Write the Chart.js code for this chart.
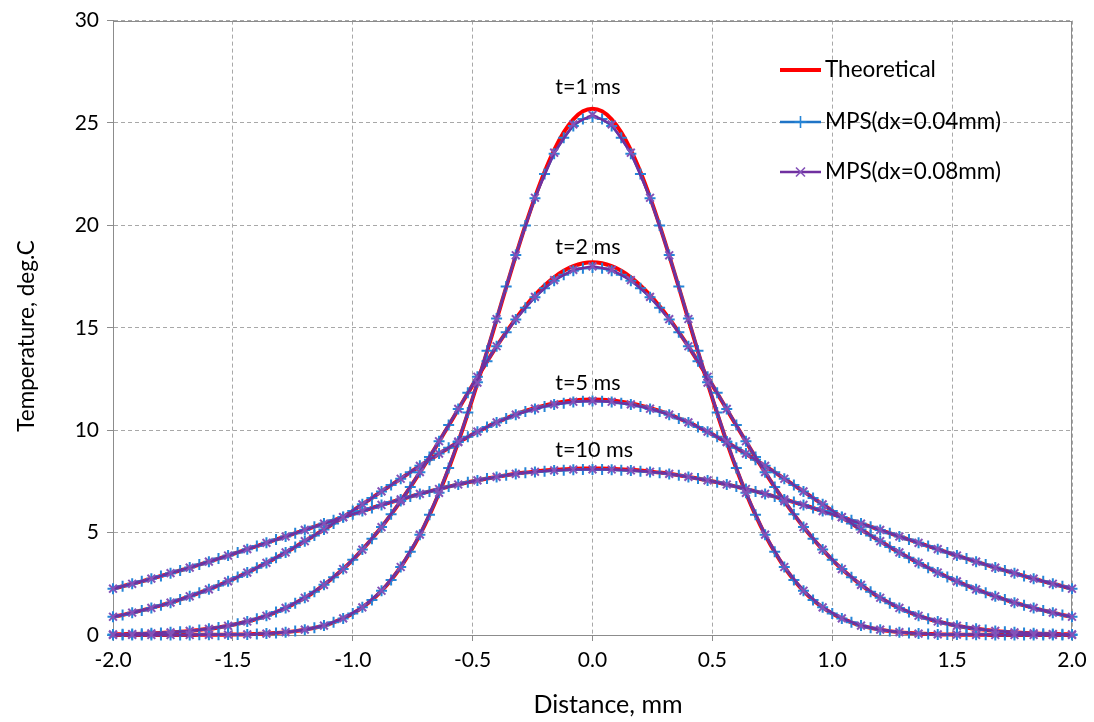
<!DOCTYPE html>
<html>
<head>
<meta charset="utf-8">
<title>Temperature distribution</title>
<script src="https://cdn.jsdelivr.net/npm/chart.js@4.4.1/dist/chart.umd.min.js"></script>
<style>
    html, body { margin: 0; padding: 0; background: #fff; }
    #wrap { width: 1094px; height: 722px; }
</style>
</head>
<body>
<div id="wrap"><canvas id="tempChart" width="1094" height="722"></canvas></div>
<script>
// Particle positions, mm
const xDx04 = [
    -2.00,-1.96,-1.92,-1.88,-1.84,-1.80,-1.76,-1.72,-1.68,-1.64,
    -1.60,-1.56,-1.52,-1.48,-1.44,-1.40,-1.36,-1.32,-1.28,-1.24,
    -1.20,-1.16,-1.12,-1.08,-1.04,-1.00,-0.96,-0.92,-0.88,-0.84,
    -0.80,-0.76,-0.72,-0.68,-0.64,-0.60,-0.56,-0.52,-0.48,-0.44,
    -0.40,-0.36,-0.32,-0.28,-0.24,-0.20,-0.16,-0.12,-0.08,-0.04,
    0.00,
    0.04,0.08,0.12,0.16,0.20,0.24,0.28,0.32,0.36,0.40,
    0.44,0.48,0.52,0.56,0.60,0.64,0.68,0.72,0.76,0.80,
    0.84,0.88,0.92,0.96,1.00,1.04,1.08,1.12,1.16,1.20,
    1.24,1.28,1.32,1.36,1.40,1.44,1.48,1.52,1.56,1.60,
    1.64,1.68,1.72,1.76,1.80,1.84,1.88,1.92,1.96,2.00
];
const xDx08 = [
    -2.00,-1.92,-1.84,-1.76,-1.68,-1.60,-1.52,-1.44,-1.36,-1.28,-1.20,-1.12,-1.04,
    -0.96,-0.88,-0.80,-0.72,-0.64,-0.56,-0.48,-0.40,-0.32,-0.24,-0.16,-0.08,
    0.00,
    0.08,0.16,0.24,0.32,0.40,0.48,0.56,0.64,0.72,0.80,0.88,0.96,
    1.04,1.12,1.20,1.28,1.36,1.44,1.52,1.60,1.68,1.76,1.84,1.92,2.00
];

// t = 1 ms
const theory1 = [
    0,0,0,0,0,0,0,0,0,0.01,
    0.01,0.01,0.02,0.02,0.03,0.05,0.07,0.10,0.14,0.19,
    0.26,0.35,0.46,0.62,0.81,1.05,1.35,1.71,2.16,2.69,
    3.32,4.05,4.89,5.85,6.93,8.12,9.42,10.82,12.30,13.83,
    15.40,16.98,18.52,20.00,21.37,22.61,23.68,24.54,25.18,25.57,
    25.70,
    25.57,25.18,24.54,23.68,22.61,21.37,20.00,18.52,16.98,15.40,
    13.83,12.30,10.82,9.42,8.12,6.93,5.85,4.89,4.05,3.32,
    2.69,2.16,1.71,1.35,1.05,0.81,0.62,0.46,0.35,0.26,
    0.19,0.14,0.10,0.07,0.05,0.03,0.02,0.02,0.01,0.01,
    0.01,0,0,0,0,0,0,0,0,0
];
const mps04_1 = [
    0,0,0,0,0,0,0,0,0,0.01,
    0.01,0.01,0.02,0.02,0.03,0.05,0.07,0.10,0.14,0.19,
    0.26,0.35,0.46,0.62,0.81,1.05,1.35,1.71,2.16,2.69,
    3.32,4.06,4.90,5.87,6.95,8.15,9.45,10.86,12.34,13.88,
    15.45,17.02,18.55,20.00,21.33,22.51,23.50,24.28,24.85,25.19,
    25.30,
    25.19,24.85,24.28,23.50,22.51,21.33,20.00,18.55,17.02,15.45,
    13.88,12.34,10.86,9.45,8.15,6.95,5.87,4.90,4.06,3.32,
    2.69,2.16,1.71,1.35,1.05,0.81,0.62,0.46,0.35,0.26,
    0.19,0.14,0.10,0.07,0.05,0.03,0.02,0.02,0.01,0.01,
    0.01,0,0,0,0,0,0,0,0,0
];
const mps08_1 = [
    0,0,0,0,0,0.01,0.02,0.03,0.07,0.14,0.26,0.46,0.81,
    1.35,2.16,3.32,4.90,6.94,9.44,12.32,15.43,18.54,21.35,23.55,24.93,
    25.40,
    24.93,23.55,21.35,18.54,15.43,12.32,9.44,6.94,4.90,3.32,2.16,1.35,
    0.81,0.46,0.26,0.14,0.07,0.03,0.02,0.01,0,0,0,0,0
];

// t = 2 ms
const theory2 = [
    0.03,0.04,0.05,0.06,0.08,0.10,0.13,0.16,0.20,0.25,
    0.30,0.37,0.45,0.55,0.66,0.79,0.94,1.12,1.32,1.55,
    1.82,2.11,2.45,2.82,3.22,3.67,4.17,4.70,5.27,5.89,
    6.54,7.22,7.94,8.68,9.45,10.23,11.02,11.81,12.59,13.35,
    14.09,14.79,15.45,16.05,16.60,17.07,17.47,17.79,18.01,18.15,
    18.20,
    18.15,18.01,17.79,17.47,17.07,16.60,16.05,15.45,14.79,14.09,
    13.35,12.59,11.81,11.02,10.23,9.45,8.68,7.94,7.22,6.54,
    5.89,5.27,4.70,4.17,3.67,3.22,2.82,2.45,2.11,1.82,
    1.55,1.32,1.12,0.94,0.79,0.66,0.55,0.45,0.37,0.30,
    0.25,0.20,0.16,0.13,0.10,0.08,0.06,0.05,0.04,0.03
];
const mps04_2 = [
    0.03,0.04,0.05,0.06,0.08,0.10,0.13,0.16,0.20,0.25,
    0.30,0.37,0.45,0.55,0.66,0.79,0.94,1.12,1.32,1.55,
    1.82,2.11,2.45,2.82,3.22,3.67,4.17,4.70,5.27,5.89,
    6.54,7.23,7.95,8.69,9.46,10.25,11.04,11.83,12.61,13.37,
    14.10,14.78,15.41,15.98,16.49,16.93,17.30,17.59,17.79,17.91,
    17.95,
    17.91,17.79,17.59,17.30,16.93,16.49,15.98,15.41,14.78,14.10,
    13.37,12.61,11.83,11.04,10.25,9.46,8.69,7.95,7.23,6.54,
    5.89,5.27,4.70,4.17,3.67,3.22,2.82,2.45,2.11,1.82,
    1.55,1.32,1.12,0.94,0.79,0.66,0.55,0.45,0.37,0.30,
    0.25,0.20,0.16,0.13,0.10,0.08,0.06,0.05,0.04,0.03
];
const mps08_2 = [
    0.03,0.05,0.08,0.13,0.20,0.30,0.45,0.66,0.94,1.32,1.82,2.45,3.22,
    4.17,5.27,6.54,7.95,9.46,11.04,12.61,14.10,15.42,16.51,17.33,17.83,
    18.00,
    17.83,17.33,16.51,15.42,14.10,12.61,11.04,9.46,7.95,6.54,5.27,4.17,
    3.22,2.45,1.82,1.32,0.94,0.66,0.45,0.30,0.20,0.13,0.08,0.05,0.03
];

// t = 5 ms
const theory5 = [
    0.89,0.98,1.09,1.20,1.32,1.45,1.58,1.73,1.89,2.06,
    2.23,2.42,2.62,2.83,3.05,3.28,3.52,3.77,4.03,4.30,
    4.58,4.86,5.15,5.45,5.76,6.06,6.38,6.69,7.01,7.32,
    7.63,7.95,8.25,8.55,8.85,9.13,9.41,9.67,9.92,10.16,
    10.38,10.58,10.77,10.94,11.08,11.21,11.31,11.39,11.45,11.49,
    11.50,
    11.49,11.45,11.39,11.31,11.21,11.08,10.94,10.77,10.58,10.38,
    10.16,9.92,9.67,9.41,9.13,8.85,8.55,8.25,7.95,7.63,
    7.32,7.01,6.69,6.38,6.06,5.76,5.45,5.15,4.86,4.58,
    4.30,4.03,3.77,3.52,3.28,3.05,2.83,2.62,2.42,2.23,
    2.06,1.89,1.73,1.58,1.45,1.32,1.20,1.09,0.98,0.89
];
const mps04_5 = [
    0.89,0.98,1.09,1.20,1.32,1.45,1.58,1.73,1.89,2.06,
    2.23,2.42,2.62,2.83,3.05,3.28,3.52,3.77,4.03,4.30,
    4.58,4.86,5.15,5.45,5.76,6.06,6.38,6.69,7.01,7.32,
    7.63,7.95,8.26,8.56,8.86,9.14,9.42,9.68,9.93,10.16,
    10.38,10.57,10.75,10.91,11.04,11.16,11.25,11.32,11.38,11.41,
    11.42,
    11.41,11.38,11.32,11.25,11.16,11.04,10.91,10.75,10.57,10.38,
    10.16,9.93,9.68,9.42,9.14,8.86,8.56,8.26,7.95,7.63,
    7.32,7.01,6.69,6.38,6.06,5.76,5.45,5.15,4.86,4.58,
    4.30,4.03,3.77,3.52,3.28,3.05,2.83,2.62,2.42,2.23,
    2.06,1.89,1.73,1.58,1.45,1.32,1.20,1.09,0.98,0.89
];
const mps08_5 = [
    0.89,1.09,1.32,1.58,1.89,2.23,2.62,3.05,3.52,4.03,4.58,5.15,5.76,
    6.38,7.01,7.63,8.26,8.86,9.42,9.93,10.38,10.76,11.05,11.26,11.39,
    11.43,
    11.39,11.26,11.05,10.76,10.38,9.93,9.42,8.86,8.26,7.63,7.01,6.38,
    5.76,5.15,4.58,4.03,3.52,3.05,2.62,2.23,1.89,1.58,1.32,1.09,0.89
];

// t = 10 ms
const theory10 = [
    2.26,2.38,2.50,2.62,2.75,2.88,3.02,3.15,3.29,3.44,
    3.58,3.73,3.88,4.03,4.19,4.34,4.50,4.66,4.81,4.97,
    5.13,5.29,5.44,5.60,5.75,5.90,6.05,6.20,6.35,6.49,
    6.62,6.76,6.89,7.01,7.13,7.25,7.35,7.46,7.55,7.64,
    7.72,7.80,7.87,7.93,7.98,8.03,8.06,8.09,8.11,8.13,
    8.13,
    8.13,8.11,8.09,8.06,8.03,7.98,7.93,7.87,7.80,7.72,
    7.64,7.55,7.46,7.35,7.25,7.13,7.01,6.89,6.76,6.62,
    6.49,6.35,6.20,6.05,5.90,5.75,5.60,5.44,5.29,5.13,
    4.97,4.81,4.66,4.50,4.34,4.19,4.03,3.88,3.73,3.58,
    3.44,3.29,3.15,3.02,2.88,2.75,2.62,2.50,2.38,2.26
];
const mps04_10 = [
    2.26,2.38,2.50,2.62,2.75,2.88,3.02,3.15,3.29,3.44,
    3.58,3.73,3.88,4.03,4.19,4.34,4.50,4.66,4.81,4.97,
    5.13,5.29,5.44,5.60,5.75,5.90,6.05,6.20,6.35,6.49,
    6.62,6.76,6.89,7.01,7.13,7.25,7.35,7.46,7.55,7.64,
    7.72,7.80,7.86,7.92,7.96,8.00,8.03,8.05,8.07,8.08,
    8.08,
    8.08,8.07,8.05,8.03,8.00,7.96,7.92,7.86,7.80,7.72,
    7.64,7.55,7.46,7.35,7.25,7.13,7.01,6.89,6.76,6.62,
    6.49,6.35,6.20,6.05,5.90,5.75,5.60,5.44,5.29,5.13,
    4.97,4.81,4.66,4.50,4.34,4.19,4.03,3.88,3.73,3.58,
    3.44,3.29,3.15,3.02,2.88,2.75,2.62,2.50,2.38,2.26
];
const mps08_10 = [
    2.26,2.50,2.75,3.02,3.29,3.58,3.88,4.19,4.50,4.81,5.13,5.44,5.75,
    6.05,6.35,6.62,6.89,7.13,7.35,7.55,7.72,7.87,7.97,8.04,8.08,
    8.09,
    8.08,8.04,7.97,7.87,7.72,7.55,7.35,7.13,6.89,6.62,6.35,6.05,
    5.75,5.44,5.13,4.81,4.50,4.19,3.88,3.58,3.29,3.02,2.75,2.50,2.26
];

// Series names and curve labels
const seriesNames = ['Theoretical', 'MPS(dx=0.04mm)', 'MPS(dx=0.08mm)'];
const timeLabels = ['t=1 ms', 't=2 ms', 't=5 ms', 't=10 ms'];
const theoryRuns = [theory1, theory2, theory5, theory10];
const mps04Runs = [mps04_1, mps04_2, mps04_5, mps04_10];
const mps08Runs = [mps08_1, mps08_2, mps08_5, mps08_10];
const xTitle = 'Distance, mm';
const yTitle = 'Temperature, deg.C';

// Styling
const FONT = 'Lato, "Open Sans", sans-serif';
const RED = '#ff0000';
const BLUE = '#1f74c6';
const BLUE_MARK = '#2585d8';
const PURPLE = '#7030a0';
const PURPLE_MARK = '#8452b8';
const GRID = '#a8a8a8';
const AXIS = '#8c8c8c';

// curve label anchors (data units): left edge x, middle y
const labelAnchors = [[-0.155, 26.75], [-0.155, 18.95], [-0.155, 12.3], [-0.155, 9.05]];

function toPoints(xs, ys) {
    return xs.map((x, i) => ({ x: x, y: ys[i] }));
}

function buildDatasets() {
    const sets = [];
    for (let k = 0; k < timeLabels.length; k++) {
        sets.push({
            label: seriesNames[0] + ' ' + timeLabels[k],
            data: toPoints(xDx04, theoryRuns[k]),
            borderColor: RED, borderWidth: 4, pointRadius: 0,
            tension: 0.3, order: 3, clip: false
        });
        sets.push({
            label: seriesNames[1] + ' ' + timeLabels[k],
            data: toPoints(xDx04, mps04Runs[k]),
            borderColor: BLUE, borderWidth: 2.5,
            pointStyle: 'cross', pointRadius: 5.5, pointBorderWidth: 2,
            pointBorderColor: BLUE_MARK, pointBackgroundColor: BLUE_MARK,
            tension: 0, order: 2, clip: false
        });
        sets.push({
            label: seriesNames[2] + ' ' + timeLabels[k],
            data: toPoints(xDx08, mps08Runs[k]),
            borderColor: PURPLE, borderWidth: 2.5,
            pointStyle: 'crossRot', pointRadius: 5.5, pointBorderWidth: 2,
            pointBorderColor: PURPLE_MARK, pointBackgroundColor: PURPLE_MARK,
            tension: 0, order: 1, clip: false
        });
    }
    return sets;
}

// Solid frame round the plot area
const framePlugin = {
    id: 'frame',
    beforeDatasetsDraw(chart) {
        const { ctx, chartArea: a } = chart;
        ctx.save();
        ctx.strokeStyle = AXIS;
        ctx.lineWidth = 1;
        ctx.strokeRect(Math.round(a.left) + 0.5, Math.round(a.top) + 0.5,
            Math.round(a.right - a.left) - 1, Math.round(a.bottom - a.top));
        ctx.restore();
    }
};

function drawMarker(ctx, style, x, y, r) {
    ctx.beginPath();
    if (style === 'cross') {
        ctx.moveTo(x - r, y); ctx.lineTo(x + r, y);
        ctx.moveTo(x, y - r); ctx.lineTo(x, y + r);
    } else {
        const d = r * 0.75;
        ctx.moveTo(x - d, y - d); ctx.lineTo(x + d, y + d);
        ctx.moveTo(x - d, y + d); ctx.lineTo(x + d, y - d);
    }
    ctx.stroke();
}

// Axis titles, curve labels and legend
const labelPlugin = {
    id: 'labels',
    afterDraw(chart) {
        const { ctx, scales } = chart;
        ctx.save();
        ctx.fillStyle = '#000';
        ctx.textBaseline = 'middle';

        // axis titles (Excel puts them a bit off centre)
        ctx.textAlign = 'center';
        ctx.font = '25px ' + FONT;
        ctx.fillText(xTitle, 608, 705);
        ctx.save();
        ctx.translate(27, 336);
        ctx.rotate(-Math.PI / 2);
        ctx.font = '22.5px ' + FONT;
        ctx.fillText(yTitle, 0, 0);
        ctx.restore();

        ctx.textAlign = 'left';
        ctx.font = '21.5px ' + FONT;
        timeLabels.forEach((t, i) => {
            ctx.fillText(t, scales.x.getPixelForValue(labelAnchors[i][0]),
                scales.y.getPixelForValue(labelAnchors[i][1]));
        });

        // legend
        const rows = [
            { y: 70, color: RED, width: 4, marker: null },
            { y: 122, color: BLUE, width: 2.5, marker: 'cross', mcolor: BLUE_MARK },
            { y: 172, color: PURPLE, width: 2.5, marker: 'crossRot', mcolor: PURPLE_MARK }
        ];
        rows.forEach((r, i) => {
            ctx.strokeStyle = r.color;
            ctx.lineWidth = r.width;
            ctx.beginPath();
            ctx.moveTo(780, r.y);
            ctx.lineTo(821, r.y);
            ctx.stroke();
            if (r.marker) {
                ctx.strokeStyle = r.mcolor;
                ctx.lineWidth = 1.6;
                drawMarker(ctx, r.marker, 800.5, r.y, 6);
            }
            ctx.fillStyle = '#000';
            ctx.font = '22.5px ' + FONT;
            ctx.fillText(seriesNames[i], 825, r.y);
        });
        ctx.restore();
    }
};

function renderChart() {
    const ctx = document.getElementById('tempChart').getContext('2d');
    new Chart(ctx, {
        type: 'line',
        data: { datasets: buildDatasets() },
        options: {
            responsive: false,
            animation: false,
            devicePixelRatio: 1,
            layout: { padding: { top: 18, right: 22, left: 0, bottom: 0 } },
            plugins: {
                legend: { display: false },
                tooltip: { enabled: false }
            },
            scales: {
                x: {
                    type: 'linear',
                    min: -2, max: 2,
                    ticks: {
                        stepSize: 0.5,
                        maxRotation: 0,
                        padding: 7,
                        color: '#000',
                        font: { family: FONT, size: 21 },
                        callback: v => v.toFixed(1)
                    },
                    grid: { color: GRID, tickColor: AXIS, tickLength: 6 },
                    border: { color: AXIS, dash: [4, 3] },
                    afterFit: s => { s.height = 87; }
                },
                y: {
                    min: 0, max: 30,
                    ticks: {
                        stepSize: 5,
                        padding: 8,
                        color: '#000',
                        font: { family: FONT, size: 21 }
                    },
                    grid: { color: GRID, tickColor: AXIS, tickLength: 6 },
                    border: { color: AXIS, dash: [4, 3] },
                    afterFit: s => { s.width = 113; }
                }
            }
        },
        plugins: [framePlugin, labelPlugin]
    });
}

window.onload = renderChart;
</script>
</body>
</html>
